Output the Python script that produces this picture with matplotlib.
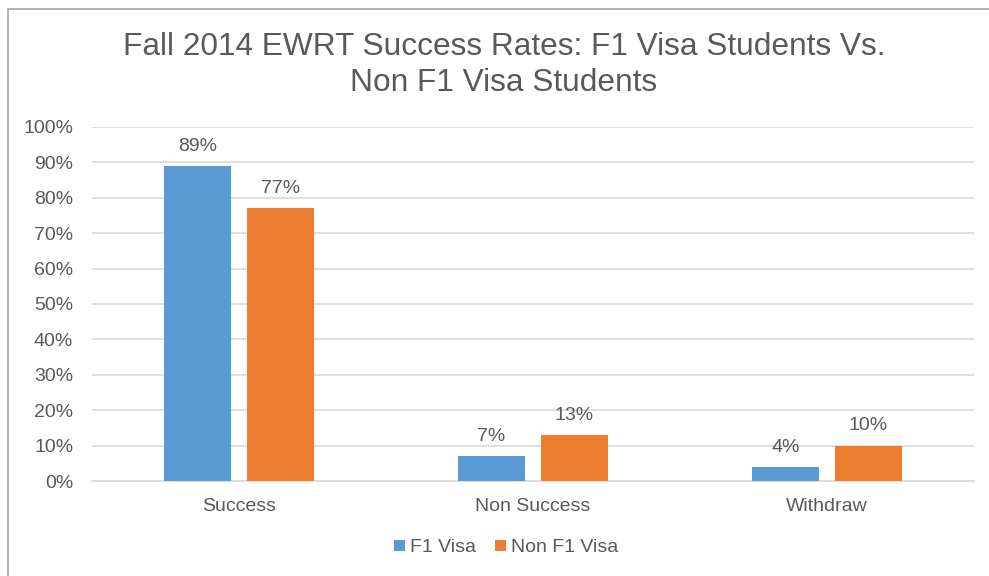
import numpy as np
import matplotlib; matplotlib.use("Agg")
import matplotlib.pyplot as plt
from matplotlib.patches import Rectangle

categories = ["Success", "Non Success", "Withdraw"]
f1_visa = [89, 7, 4]
non_f1_visa = [77, 13, 10]
yticks = list(range(0, 101, 10))

BLUE, ORANGE = "#5b9bd5", "#ed7d31"
TXT, GRID = "#595959", "#d9d9d9"
plt.rcParams["font.family"] = ["Liberation Sans", "DejaVu Sans"]
FS = 14

fig = plt.figure(figsize=(9.89, 5.76), dpi=100)
fig.patch.set_facecolor("white")
# outer chart border (runs off right/bottom edge like the screenshot)
fig.patches.append(Rectangle((8 / 989, -0.01), 1.0, (576 - 8.5) / 576 + 0.01, transform=fig.transFigure,
                             fill=False, edgecolor="#a6a6a6", lw=1.2))

ax = fig.add_axes([92 / 989, (576 - 481) / 576, (974 - 92) / 989, (481 - 127) / 576])
x = np.arange(len(categories))
w, off = 0.225, 0.141
b1 = ax.bar(x - off, f1_visa, w, color=BLUE, label="F1 Visa", zorder=3)
b2 = ax.bar(x + off, non_f1_visa, w, color=ORANGE, label="Non F1 Visa", zorder=3)
for bars, vals in ((b1, f1_visa), (b2, non_f1_visa)):
    for r, v in zip(bars, vals):
        ax.annotate(f"{v}%", (r.get_x() + r.get_width() / 2, v), xytext=(0, 8),
                    textcoords="offset points", ha="center", va="bottom", color=TXT, fontsize=FS)

ax.set_xlim(-0.5, len(categories) - 0.5)
ax.set_ylim(0, 100)
ax.set_yticks(yticks)
ax.set_yticklabels([f"{t}%" for t in yticks])
ax.set_xticks(x)
ax.set_xticklabels(categories)
ax.tick_params(length=0, colors=TXT, labelsize=FS)
ax.tick_params(axis="y", pad=13.5)
ax.tick_params(axis="x", pad=12)
ax.grid(axis="y", color=GRID, lw=1.2, zorder=0)
for s in ("top", "right", "left"):
    ax.spines[s].set_visible(False)
ax.spines["bottom"].set_color(GRID)
ax.spines["bottom"].set_linewidth(1.2)

fig.text(504 / 989, (576 - 65) / 576, "Fall 2014 EWRT Success Rates: F1 Visa Students Vs.\nNon F1 Visa Students",
         ha="center", va="center", color=TXT, fontsize=22.8, linespacing=1.25)

fig.legend(handles=[b1, b2], loc="center", bbox_to_anchor=(506 / 989, (576 - 548) / 576), ncol=2,
           frameon=False, fontsize=FS, labelcolor=TXT, handlelength=0.55, handleheight=0.55,
           handletextpad=0.25, columnspacing=1.0)

fig.savefig("out.png", dpi=100, facecolor="white")
